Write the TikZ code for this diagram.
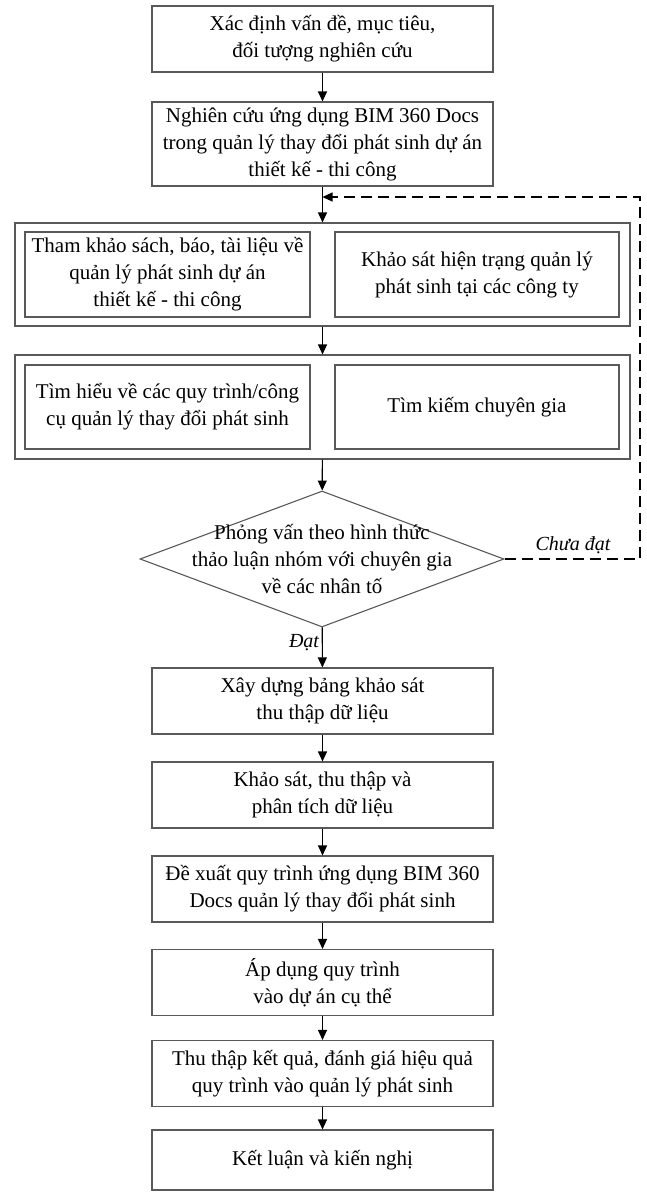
\documentclass[tikz,border=0pt]{standalone}
\usepackage{fontspec}
\setmainfont{Liberation Serif}
\usetikzlibrary{shapes.geometric,arrows.meta}

\begin{document}
\begin{tikzpicture}[x=1pt,y=-1pt,
    box/.style={draw=black!65,line width=1.1pt,align=center,inner sep=0pt,
      font=\fontsize{21}{27}\selectfont,minimum width=341pt,minimum height=66pt},
    frame/.style={draw=black!65,line width=1.1pt,minimum width=615pt},
    arr/.style={-{Triangle[length=10pt,width=9pt]},line width=1.1pt},
    loop/.style={arr,dash pattern=on 11pt off 6pt},
    lbl/.style={font=\fontsize{20}{24}\selectfont\itshape,inner sep=0pt}]
  \useasboundingbox (0,0) rectangle (647,1192);
  % top steps
  \node[box] (b1) at (322.5,39) {Xác định vấn đề, mục tiêu,\\đối tượng nghiên cứu};
  \node[box,minimum height=84pt] (b2) at (322.5,144) {Nghiên cứu ứng dụng BIM 360 Docs\\trong quản lý thay đổi phát sinh dự án\\thiết kế - thi công};
  % two framed pairs
  \node[frame,minimum height=103pt] (o1) at (322.5,274.5) {};
  \node[box,minimum width=285pt,minimum height=85pt] (o1l) at (167.5,274.5) {Tham khảo sách, báo, tài liệu về\\quản lý phát sinh dự án\\thiết kế - thi công};
  \node[box,minimum width=284pt,minimum height=85pt] (o1r) at (477,274.5) {Khảo sát hiện trạng quản lý\\phát sinh tại các công ty};
  \node[frame,minimum height=104pt] (o2) at (322.5,407) {};
  \node[box,minimum width=285pt,minimum height=84pt] (o2l) at (167.5,407) {Tìm hiểu về các quy trình/công\\cụ quản lý thay đổi phát sinh};
  \node[box,minimum width=284pt,minimum height=84pt] (o2r) at (477,407) {Tìm kiếm chuyên gia};
  % decision
  \node[diamond,draw=black!65,line width=1.1pt,minimum width=364pt,minimum height=136pt,inner sep=0pt] (d) at (322,559) {};
  \node[align=center,font=\fontsize{21}{27}\selectfont,inner sep=0pt] (dt) at (d) {Phỏng vấn theo hình thức\\thảo luận nhóm với chuyên gia\\về các nhân tố};
  % lower steps
  \foreach \n/\y/\t in {b3/701/{Xây dựng bảng khảo sát\\thu thập dữ liệu},
      b4/795/{Khảo sát, thu thập và\\phân tích dữ liệu},
      b5/889/{Đề xuất quy trình ứng dụng BIM 360\\Docs quản lý thay đổi phát sinh},
      b6/982.5/{Áp dụng quy trình\\vào dự án cụ thể},
      b7/1073.5/{Thu thập kết quả, đánh giá hiệu quả\\quy trình vào quản lý phát sinh}}
    \node[box] (\n) at (322.5,\y) {\t};
  \node[box,minimum height=60pt] (b8) at (322.5,1160) {Kết luận và kiến nghị};
  % arrows
  \foreach \a/\b in {b1/b2,b2/o1,o1/o2,o2/d,d/b3,b3/b4,b4/b5,b5/b6,b6/b7,b7/b8}
    \draw[arr] (\a) -- (\b);
  \coordinate (turn) at (640,197);
  \coordinate (join) at (322.5,197);
  \draw[loop] (d.east) -| (turn) -- (join);
  \node[lbl] (ok) at (304,643) {Đạt};
  \node[lbl] (notok) at (573,545) {Chưa đạt};
\end{tikzpicture}
\end{document}
